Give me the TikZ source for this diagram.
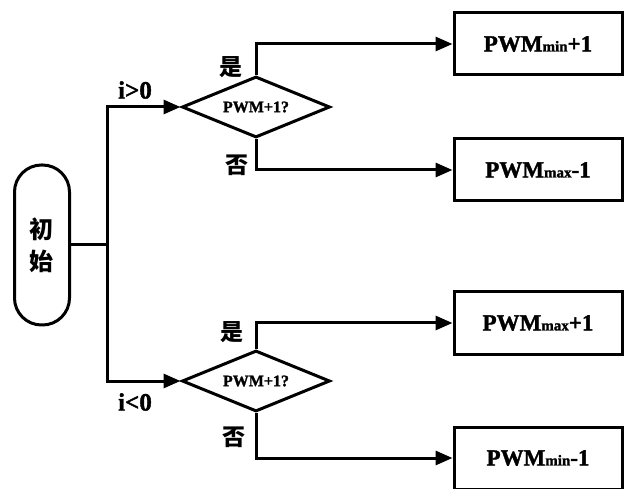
\documentclass[tikz,border=0pt]{standalone}
\usepackage{fontspec}
\setmainfont{Liberation Serif}[BoldFeatures={FakeBold=1.5}]
\newfontfamily\cjk{Noto Sans CJK SC}
\usetikzlibrary{shapes.geometric,arrows.meta}
\tikzset{
  ln/.style={line width=3pt},
  arr/.style={ln,-{Triangle[length=17pt,width=14pt]}},
  dia/.style={draw,ln,diamond,aspect=2.43,minimum width=148pt,minimum height=61pt,inner sep=0pt,font=\bfseries\fontsize{16}{16}\selectfont},
  outbox/.style={draw,ln,rectangle,minimum width=168pt,minimum height=62pt,inner sep=0pt,font=\bfseries\fontsize{23}{23}\selectfont},
  startbox/.style={draw,ln,rectangle,rounded corners=27pt,minimum width=55pt,minimum height=160pt,inner sep=0pt,align=center,font=\cjk\bfseries\fontsize{24}{24}\selectfont},
  cjklab/.style={font=\cjk\bfseries\fontsize{23}{23}\selectfont,inner sep=0pt},
  cond/.style={font=\bfseries\fontsize{25}{25}\selectfont,inner sep=0pt}
}
\newcommand{\smallsub}[1]{{\fontsize{15}{15}\selectfont #1}}
\begin{document}
\begin{tikzpicture}[x=1pt,y=-1pt]
\useasboundingbox (0,0) rectangle (627,489);
\node[startbox] (s) at (42,245) {初\\[8pt]始};
\coordinate (j) at (107,245);
\node[dia] (d1) at (256,107) {PWM+1?};
\node[dia] (d2) at (256,381) {PWM+1?};
\node[outbox] (b1) at (538,44) {PWM\smallsub{min}+1};
\node[outbox] (b2) at (538,170) {PWM\smallsub{max}-1};
\node[outbox] (b3) at (538,323) {PWM\smallsub{max}+1};
\node[outbox] (b4) at (538,458) {PWM\smallsub{min}-1};
\draw[ln] (s.east) -- (j);
\draw[arr] (j) |- (d1.west);
\draw[arr] (j) |- (d2.west);
\draw[arr] (d1.north) |- (b1.west);
\draw[arr] (d1.south) |- (b2.west);
\draw[arr] (d2.north) |- (b3.west);
\draw[arr] (d2.south) |- (b4.west);
\node[cond] (c1) at (135,90) {i>0};
\node[cond] (c2) at (135,402) {i<0};
\node[cjklab] (y1) at (231,67) {是};
\node[cjklab] (n1) at (237,165) {否};
\node[cjklab] (y2) at (232,332) {是};
\node[cjklab] (n2) at (234,437) {否};
\end{tikzpicture}
\end{document}
